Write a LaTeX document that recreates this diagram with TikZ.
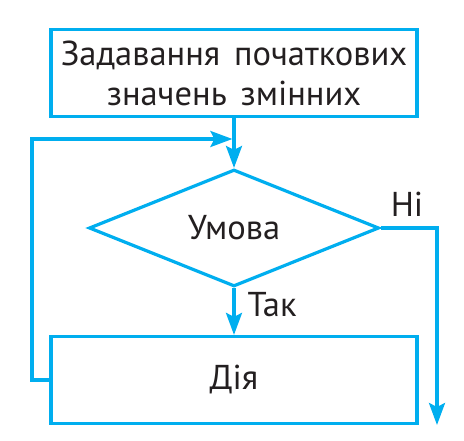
\documentclass[tikz,border=0pt]{standalone}
\usepackage{fontspec}
\setmainfont{PT Sans}[WordSpace=1.5]
\usetikzlibrary{arrows.meta,shapes.geometric}
\definecolor{flowcyan}{RGB}{0,174,239}
\definecolor{flowtext}{RGB}{35,31,32}

\begin{document}
\begin{tikzpicture}[x=1pt, y=-1pt, line width=3.2pt,
  flowtxt/.style={text=flowtext, font=\fontsize{34.5}{40}\selectfont},
  blockbox/.style={flowtxt, draw=flowcyan, minimum width=366pt, minimum height=87pt, inner sep=0pt, align=center},
  condbox/.style={flowtxt, draw=flowcyan, diamond, minimum width=290pt, minimum height=114pt, inner sep=0pt},
  flowline/.style={draw=flowcyan, line join=miter},
  flowarrow/.style={flowline, -{Stealth[length=22pt, width=16pt, inset=4pt]}}]

\useasboundingbox (0,0) rectangle (464,441);

\node[blockbox] (init) at (234,73) {Задавання початкових\\значень змінних};
\node[condbox] (cond) at (234,228) {Умова};
\node[blockbox] (act) at (234,380) {Дія};

\node[flowtxt] (yes) at (272,305) {Так};
\node[flowtxt] (no) at (407,204) {Ні};

\coordinate (join) at (234,139);
\coordinate (looptop) at (32,139);
\coordinate (noend) at (437,425);

\draw[flowline] (init.south) -- (join);
\draw[flowarrow] (join) -- (cond.north);
\draw[flowarrow] (cond.south) -- (act.north);
\draw[flowarrow, shorten >=1.6pt] (act.west) -- (act.west -| looptop) -- (looptop) -- (join);
\draw[flowarrow] (cond.east) -- (cond.east -| noend) -- (noend);
\end{tikzpicture}
\end{document}
